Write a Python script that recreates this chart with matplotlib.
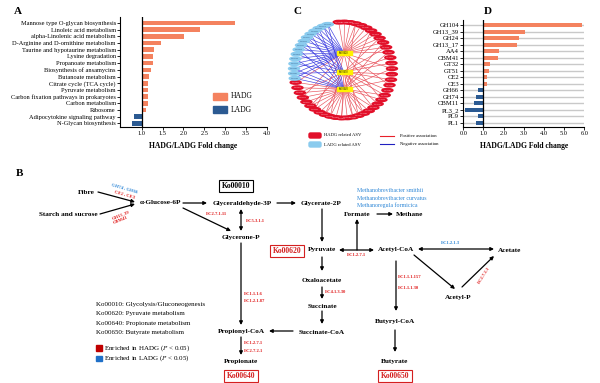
import numpy as np
import matplotlib.pyplot as plt
from matplotlib.patches import Ellipse, Rectangle, FancyBboxPatch

plt.rcParams['font.family'] = ['Liberation Serif', 'DejaVu Serif']
plt.rcParams['mathtext.fontset'] = 'stix'

# ---- panel A: KEGG pathways
pathways = ["Mannose type O-glycan biosynthesis", "Linoleic acid metabolism",
            "alpha-Linolenic acid metabolism", "D-Arginine and D-ornithine metabolism",
            "Taurine and hypotaurine metabolism", "Lysine degradation",
            "Propanoate metabolism", "Biosynthesis of ansamycins",
            "Butanoate metabolism", "Citrate cycle (TCA cycle)", "Pyruvate metabolism",
            "Carbon fixation pathways in prokaryotes", "Carbon metabolism", "Ribosome",
            "Adipocytokine signaling pathway", "N-Glycan biosynthesis"]
pathway_fc = [3.23, 2.39, 2.02, 1.47, 1.29, 1.26, 1.26, 1.22, 1.18, 1.15, 1.15,
              1.15, 1.14, 1.11, 0.82, 0.77]

# ---- panel D: CAZy families
cazy = ["GH104", "GH13_39", "GH24", "GH13_17", "AA4", "CBM41", "GT32", "GT51",
        "CE2", "CE3", "GH66", "GH74", "CBM11", "PL3_2", "PL9", "PL1"]
cazy_fc = [5.9, 3.05, 2.75, 2.69, 1.79, 1.71, 1.34, 1.26, 1.19, 1.18, 0.71, 0.65,
           0.55, 0.11, 0.71, 0.63]

# ---- panel C: network
hubs = ["Ko00620", "Ko00650", "Ko00640"]
n_red = 40
n_blue = 15
red_links = [
    [0, 1, 2, 3, 4, 5, 6, 7, 8, 9, 10, 11, 14, 17, 20, 25, 30, 33, 36, 39],
    [8, 10, 12, 13, 15, 16, 18, 19, 21, 22, 24, 26, 28, 31, 34, 37],
    [3, 6, 9, 11, 14, 16, 19, 20, 22, 23, 24, 25, 26, 27, 28, 29, 30, 31, 32,
     33, 34, 35, 36, 37, 38, 39],
]
blue_links = [
    [0, 1, 2, 3, 4, 5, 6, 7, 8, 9, 10, 11, 12, 13, 14],
    [1, 3, 5, 7, 9, 11, 13],
    [0, 2, 4, 6, 8, 10, 12, 13, 14],
]

HADG_COLOR = "#F4825F"
LADG_COLOR = "#2B5A92"
EC_RED = "#E01B1B"
EC_BLUE = "#2C86D6"

fig = plt.figure(figsize=(6, 3.83), dpi=100)
ax0 = fig.add_axes([0, 0, 1, 1])
ax0.set_xlim(0, 600)
ax0.set_ylim(383, 0)
ax0.axis("off")

# panel letters
for letter, x, y in [("A", 18, 11), ("C", 297, 11), ("D", 488, 11), ("B", 20, 174)]:
    ax0.text(x, y, letter, fontsize=8, fontweight="bold", ha="center", va="center")


def fold_bars(ax, labels, values, xlim, xticks, bar_h, grid=False):
    y = np.arange(len(labels))
    vals = np.array(values)
    cols = [HADG_COLOR if v >= 1 else LADG_COLOR for v in vals]
    if grid:
        for yy in y:
            ax.axhline(yy, color="#c9c9c9", lw=1.0, zorder=0)
    ax.barh(y, vals - 1, left=1, height=bar_h, color=cols, zorder=2)
    ax.axvline(1, color="black", lw=0.9, zorder=3)
    ax.set_yticks(y)
    ax.set_yticklabels(labels)
    ax.set_xlim(*xlim)
    ax.set_xticks(xticks)
    ax.set_xticklabels([f"{t:.1f}" for t in xticks])
    ax.spines["top"].set_visible(False)
    ax.spines["right"].set_visible(False)
    for s in ["left", "bottom"]:
        ax.spines[s].set_linewidth(0.8)
    ax.tick_params(length=2, width=0.6, pad=1)
    ax.set_xlabel("HADG/LADG Fold change", fontsize=5.5, fontweight="bold", labelpad=4)
    ax.patch.set_alpha(0)


# ---- A
axA = fig.add_axes([0.2, 0.668, 0.245, 0.287])
fold_bars(axA, pathways, pathway_fc, (0.48, 4.0), [1.0, 1.5, 2.0, 2.5, 3.0, 3.5, 4.0], 0.7)
axA.set_ylim(len(pathways) - 1 + 0.55, -0.85)
axA.tick_params(axis="y", labelsize=4.6)
axA.tick_params(axis="x", labelsize=4.6)
ax0.add_patch(Rectangle((213, 93), 14, 7, color=HADG_COLOR))
ax0.add_patch(Rectangle((213, 106), 14, 7, color=LADG_COLOR))
ax0.text(231, 96.5, "HADG", fontsize=5.5, va="center")
ax0.text(231, 109.5, "LADG", fontsize=5.5, va="center")

# ---- D
axD = fig.add_axes([0.772, 0.668, 0.2017, 0.279])
fold_bars(axD, cazy, cazy_fc, (0, 6.0), [0.0, 1.0, 2.0, 3.0, 4.0, 5.0, 6.0], 0.6, grid=True)
axD.set_ylim(len(cazy) - 1 + 0.66, -0.77)
axD.tick_params(axis="y", labelsize=4.8)
axD.tick_params(axis="x", labelsize=4.6)

# ---- C network
cx, cy, rx, ry = 343, 70, 49, 48
red_theta = np.radians(np.linspace(95, -165, n_red))
blue_theta = np.radians(np.linspace(108, 190, n_blue))
red_xy = np.c_[cx + rx * np.cos(red_theta), cy - ry * np.sin(red_theta)]
blue_xy = np.c_[cx + rx * np.cos(blue_theta), cy - ry * np.sin(blue_theta)]
hub_xy = np.array([[344, 53], [344, 72], [344, 89]])

for h, links in enumerate(red_links):
    for i in links:
        ax0.plot([hub_xy[h, 0], red_xy[i, 0]], [hub_xy[h, 1], red_xy[i, 1]],
                 color="#E8505A", lw=0.45, zorder=1)
for h, links in enumerate(blue_links):
    for i in links:
        ax0.plot([hub_xy[h, 0], blue_xy[i, 0]], [hub_xy[h, 1], blue_xy[i, 1]],
                 color="#3B3BE0", lw=0.45, zorder=1)
for i, (x, y) in enumerate(red_xy):
    ax0.add_patch(Ellipse((x, y), 11, 3.6, color="#E2102A", zorder=3))
    ax0.text(x, y, f"ASV{1020 + 37 * i}", fontsize=1.4, color="white",
             ha="center", va="center", zorder=4)
for i, (x, y) in enumerate(blue_xy):
    ax0.add_patch(Ellipse((x, y), 11, 3.6, color="#8ACBEE", zorder=3))
    ax0.text(x, y, f"ASV{2110 + 41 * i}", fontsize=1.4, color="#1a3a6a",
             ha="center", va="center", zorder=4)
for (x, y), name in zip(hub_xy, hubs):
    ax0.add_patch(Rectangle((x - 7.5, y - 2.3), 15, 4.6, color="#FFF200", zorder=5))
    ax0.text(x, y, name, fontsize=1.8, ha="center", va="center", zorder=6)

# C legend
ax0.add_patch(FancyBboxPatch((309, 133), 12, 5, boxstyle="round,pad=0,rounding_size=1.5",
                             color="#E2102A"))
ax0.add_patch(FancyBboxPatch((309, 142), 12, 5, boxstyle="round,pad=0,rounding_size=1.5",
                             color="#8ACBEE"))
ax0.text(324, 135.5, "HADG related ASV", fontsize=3.3, va="center")
ax0.text(324, 144.5, "LADG related ASV", fontsize=3.3, va="center")
ax0.plot([380, 394], [136, 136], color="#E8202A", lw=0.8)
ax0.plot([380, 394], [144, 144], color="#2020C0", lw=0.8)
ax0.text(400, 136, "Positive association", fontsize=3.3, va="center")
ax0.text(400, 144, "Negative association", fontsize=3.3, va="center")

# ---- B pathway diagram
compounds = [("Fibre", 86, 193), ("Starch and sucrose", 68, 214), ("α-Glucose-6P", 160, 203),
             ("Glyceraldehyde-3P", 242, 203), ("Glycerone-P", 241, 237),
             ("Glycerate-2P", 321, 203), ("Formate", 357, 214), ("Methane", 410, 214),
             ("Pyruvate", 322, 250), ("Acetyl-CoA", 396, 250), ("Acetate", 510, 250),
             ("Acetyl-P", 458, 298), ("Oxaloacetate", 322, 281), ("Succinate", 322, 306),
             ("Succinate-CoA", 322, 332), ("Propionyl-CoA", 241, 331),
             ("Propionate", 241, 362), ("Butyryl-CoA", 395, 322), ("Butyrate", 395, 361)]
for name, x, y in compounds:
    ax0.text(x, y, name, fontsize=5.2, fontweight="bold", ha="center", va="center")

arrows = [("-|>", (98, 192), (135, 202)), ("-|>", (100, 214), (135, 204)),
          ("-|>", (183, 203), (207, 203)), ("-|>", (183, 208), (231, 231)),
          ("<|-|>", (241, 209), (241, 231)), ("-|>", (277, 203), (296, 203)),
          ("-|>", (241, 243), (241, 325)), ("-|>", (241, 337), (241, 355)),
          ("-|>", (293, 331), (269, 331)), ("-|>", (322, 209), (322, 242)),
          ("<|-|>", (339, 250), (374, 250)), ("-|>", (357, 250), (357, 219)),
          ("-|>", (377, 214), (393, 214)), ("<|-|>", (418, 249), (494, 249)),
          ("-|>", (414, 255), (455, 289)), ("-|>", (462, 287), (494, 256)),
          ("-|>", (396, 261), (396, 311)), ("-|>", (395, 330), (395, 352)),
          ("-|>", (322, 257), (322, 271)), ("-|>", (322, 287), (322, 299)),
          ("-|>", (322, 311), (322, 324))]
for style, p0, p1 in arrows:
    ax0.annotate("", xy=p1, xytext=p0,
                 arrowprops=dict(arrowstyle=style, color="black", lw=0.9,
                                 mutation_scale=5, shrinkA=0, shrinkB=0))

enzymes = [("GH74 , GH66", 124, 189, -16, EC_BLUE, "center"),
           ("CE2 , CE3", 124, 194.5, -16, EC_RED, "center"),
           ("GH13_39", 120.5, 215, 22, EC_RED, "center"),
           ("CBM41", 121, 220.5, 22, EC_RED, "center"),
           ("EC2.7.1.11", 216, 214, 0, EC_RED, "center"),
           ("EC5.3.1.1", 246, 221, 0, EC_RED, "left"),
           ("EC1.1.1.6", 244, 294, 0, EC_RED, "left"),
           ("EC1.2.1.87", 244, 301, 0, EC_RED, "left"),
           ("EC1.2.7.1", 244, 343, 0, EC_RED, "left"),
           ("EC2.7.2.1", 244, 351, 0, EC_RED, "left"),
           ("EC1.2.7.1", 356, 255, 0, EC_RED, "center"),
           ("EC1.2.1.3", 450, 243, 0, EC_BLUE, "center"),
           ("EC2.7.2.1", 484, 275, 58, EC_RED, "center"),
           ("EC1.1.1.157", 398, 277, 0, EC_RED, "left"),
           ("EC1.1.1.30", 398, 288, 0, EC_RED, "left"),
           ("EC4.1.3.30", 325, 292, 0, EC_RED, "left")]
for txt, x, y, rot, col, ha in enzymes:
    ax0.text(x, y, txt, fontsize=3.3, fontweight="bold", color=col, rotation=rot,
             ha=ha, va="center", rotation_mode="anchor")

for i, sp in enumerate(["Methanobrevibacter smithii", "Methanobrevibacter curvatus",
                        "Methanoregula formicica"]):
    ax0.text(357, 191 + 7 * i, sp, fontsize=4.2, color=EC_BLUE, va="center")

ko_boxes = [("Ko00010", 236, 186, "black"), ("Ko00620", 287, 251, "#D42020"),
            ("Ko00640", 241, 376, "#D42020"), ("Ko00650", 395, 376, "#D42020")]
for name, x, y, col in ko_boxes:
    ax0.text(x, y, name, fontsize=5.5, fontweight="bold", color=col, ha="center",
             va="center", bbox=dict(boxstyle="square,pad=0.3", fc="white", ec=col, lw=0.8))

ko_desc = ["Ko00010: Glycolysis/Gluconeogenesis", "Ko00620: Pyruvate metabolism",
           "Ko00640: Propionate metabolism", "Ko00650: Butyrate metabolism"]
for i, t in enumerate(ko_desc):
    ax0.text(96, 304.5 + 9.3 * i, t, fontsize=5, va="center")
ax0.add_patch(Rectangle((96, 345), 6, 5.5, color="#C00000"))
ax0.add_patch(Rectangle((96, 355.5), 6, 5.5, color="#1F70C8"))
ax0.text(104.5, 348, r"Enriched in HADG ($\it{P}$ < 0.05)", fontsize=5, va="center")
ax0.text(104.5, 358.5, r"Enriched in LADG ($\it{P}$ < 0.05)", fontsize=5, va="center")

fig.savefig("out.png", dpi=100)
